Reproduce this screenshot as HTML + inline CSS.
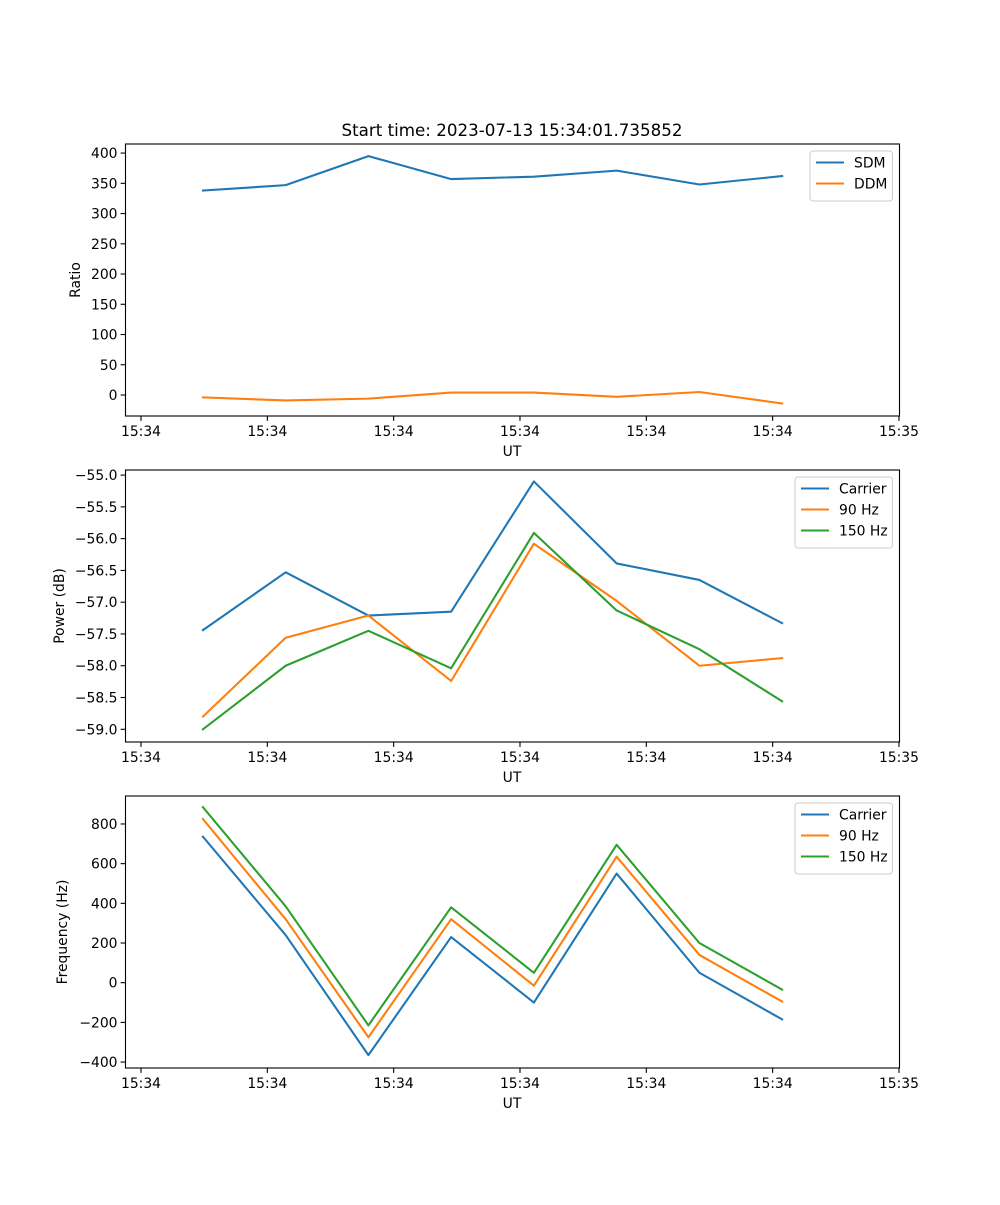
<!DOCTYPE html>
<html><head><meta charset="utf-8"><style>
body{margin:0;background:#fff}
svg text{font-family:"DejaVu Sans","Liberation Sans",sans-serif;font-size:13.9px;fill:#000}
</style></head><body>
<svg id="fig" width="1000" height="1200" xmlns="http://www.w3.org/2000/svg">
<text x="512" y="136" text-anchor="middle" style="font-size:16.7px">Start time: 2023-07-13 15:34:01.735852</text>
</svg>
<script>
const times=[4.9,11.45,18.0,24.55,31.1,37.65,44.2,50.75];
const xTickVals=[0,10,20,30,40,50,60];
const xTickLabels=["15:34","15:34","15:34","15:34","15:34","15:34","15:35"];
const sdm=[338,347,395,357,361,371,348,362];
const ddm=[-4,-9,-6,4,4,-3,5,-14];
const pwrCarrier=[-57.44,-56.53,-57.21,-57.15,-55.10,-56.39,-56.65,-57.33];
const pwr90=[-58.80,-57.56,-57.21,-58.24,-56.08,-56.98,-58.00,-57.88];
const pwr150=[-59.00,-58.00,-57.45,-58.04,-55.91,-57.13,-57.74,-58.56];
const frqCarrier=[736,240,-365,230,-100,550,50,-185];
const frq90=[825,320,-275,320,-15,635,140,-95];
const frq150=[885,385,-215,380,50,695,200,-35];
const ticks1=[0,50,100,150,200,250,300,350,400];
const ticks2=[-55.0,-55.5,-56.0,-56.5,-57.0,-57.5,-58.0,-58.5,-59.0];
const ticks3=[-400,-200,0,200,400,600,800];

const NS="http://www.w3.org/2000/svg";
const svg=document.getElementById('fig');
function mk(tag,attrs,parent){const e=document.createElementNS(NS,tag);for(const k in attrs)e.setAttribute(k,attrs[k]);(parent||svg).appendChild(e);return e;}
const L=125.5,R=899.5;
function xS(t){return 141+(t/10)*126.33;}
const colors={blue:"#1f77b4",orange:"#ff7f0e",green:"#2ca02c"};

function panel(name,top,bot,ymin,ymax,yticks,fmt,ylabel,series,legend){
  const g=mk('g',{});
  
  
  const yS=v=>bot-(v-ymin)/(ymax-ymin)*(bot-top);
  yticks.forEach(v=>{
    const y=yS(v);
    const tk=mk('line',{x1:L-4.9,x2:L,y1:y,y2:y,stroke:'#000','stroke-width':1.1},g);
    
    
    const t=mk('text',{x:L-8,y:y+5,'text-anchor':'end'},g);
    t.textContent=fmt(v);
    
    
  });
  xTickVals.forEach((v,i)=>{
    const x=xS(v);
    const tk=mk('line',{x1:x,x2:x,y1:bot,y2:bot+4.9,stroke:'#000','stroke-width':1.1},g);
    
    
    const t=mk('text',{x:x,y:bot+20,'text-anchor':'middle'},g);
    t.textContent=xTickLabels[i];
    
    
  });
  const xl=mk('text',{x:512,y:bot+40,'text-anchor':'middle'},g);
  xl.textContent='UT';
  
  
  const cy=(top+bot)/2;
  const yl=mk('text',{x:0,y:0,'text-anchor':'middle',transform:`translate(${ylabel[1]},${cy}) rotate(-90)`},g);
  yl.textContent=ylabel[0];
  
  
  series.forEach(s=>{
    const p=mk('polyline',{points:s.vals.map((v,i)=>xS(times[i])+','+yS(v)).join(' '),fill:'none',stroke:s.c,'stroke-width':2.08,'stroke-linejoin':'round','stroke-linecap':'square'},g);
    
    
  });
  const fr=mk('rect',{x:L,y:top,width:R-L,height:bot-top,fill:'none',stroke:'#000','stroke-width':1.1},g);
  
  
  const lg=mk('g',{},g);
  
  
  mk('rect',{x:legend[0],y:top+7,width:R-7-legend[0],height:series.length*21+8,rx:3,fill:'#fff',stroke:'#ccc','stroke-width':1},lg);
  series.forEach((s,i)=>{
    const y=top+18.5+i*21;
    mk('line',{x1:legend[0]+6,x2:legend[0]+34,y1:y,y2:y,stroke:s.c,'stroke-width':2.08},lg);
    const t=mk('text',{x:legend[0]+44,y:y+5},lg);
    t.textContent=s.n;
    
    
  });
}
panel('ratio',144,416,-34.7,415,ticks1,v=>String(v),['Ratio',80],
  [{n:'SDM',vals:sdm,c:colors.blue},{n:'DDM',vals:ddm,c:colors.orange}],[810]);
panel('power',470,742,-59.2,-54.92,ticks2,v=>v.toFixed(1).replace('-','\u2212'),['Power (dB)',64],
  [{n:'Carrier',vals:pwrCarrier,c:colors.blue},{n:'90 Hz',vals:pwr90,c:colors.orange},{n:'150 Hz',vals:pwr150,c:colors.green}],[795]);
panel('frequency',796,1068,-430,941,ticks3,v=>String(v).replace('-','\u2212'),['Frequency (Hz)',67],
  [{n:'Carrier',vals:frqCarrier,c:colors.blue},{n:'90 Hz',vals:frq90,c:colors.orange},{n:'150 Hz',vals:frq150,c:colors.green}],[795]);
</script>
</body></html>
